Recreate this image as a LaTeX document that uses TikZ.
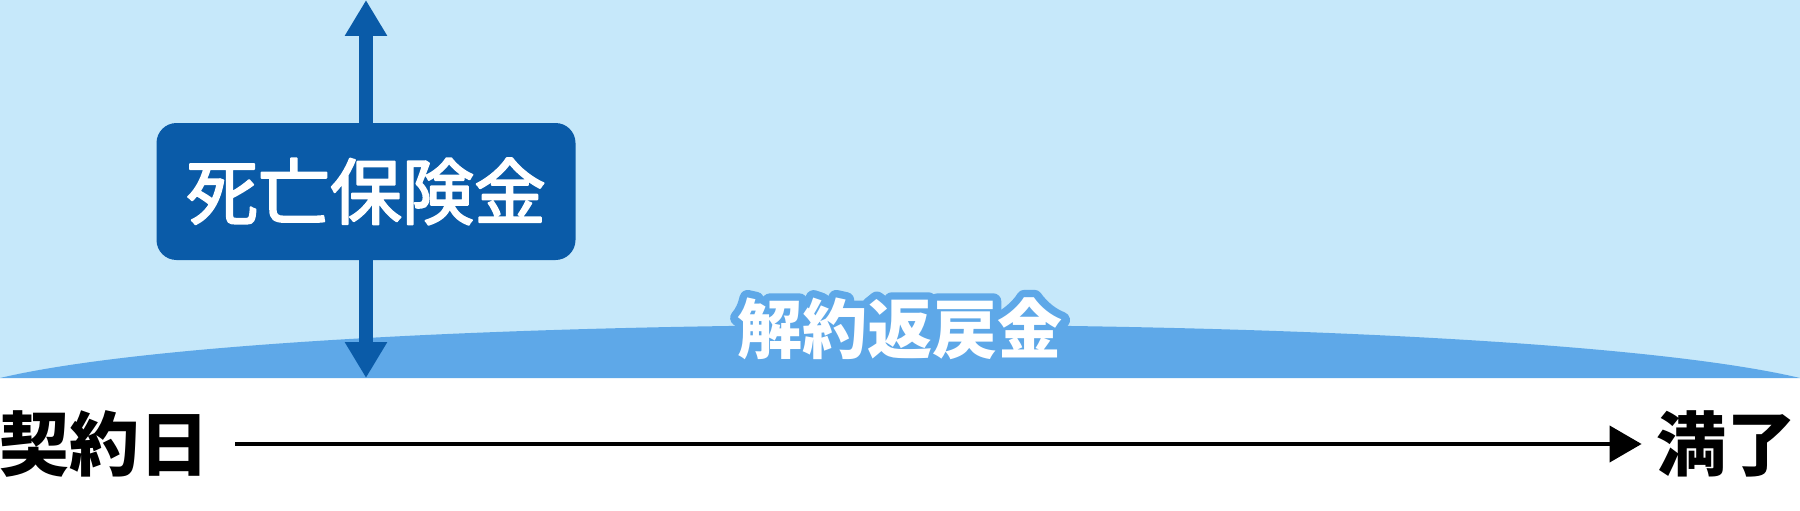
\documentclass[tikz,border=0pt]{standalone}
\usepackage{fontspec}
\usetikzlibrary{arrows.meta}
\newfontfamily\jp{Noto Sans CJK JP}
\newfontfamily\jpol{Noto Sans CJK JP}[FakeBold=25]
\newfontfamily\jpm{Noto Sans CJK JP}[FakeBold=2.6]
\definecolor{skyL}{HTML}{C6E8FA}
\definecolor{domeC}{HTML}{5EA8E8}
\definecolor{boxC}{HTML}{0A5BA8}
\tikzset{
  deathbox/.style={fill=boxC, rounded corners=20pt, minimum width=419pt, minimum height=137pt,
    inner sep=0pt, text=white, font=\jpm\fontsize{72}{80}\selectfont},
  vbar/.style={draw=boxC, line width=14pt, -{Triangle[width=40pt,length=36pt]}},
  tlabel/.style={inner sep=0pt, text=black, font=\jp\bfseries\fontsize{70}{78}\selectfont},
  refund/.style={inner sep=0pt, text=white, font=\jp\bfseries\fontsize{65}{72}\selectfont},
  refundrim/.style={inner sep=0pt, text=domeC, font=\jpol\bfseries\fontsize{65}{72}\selectfont},
  timeline/.style={draw=black, line width=4pt, -{Triangle[width=36pt,length=32pt]}}
}
\begin{document}
\begin{tikzpicture}[x=1pt,y=-1pt]
\useasboundingbox (0,0) rectangle (1800,511);
\fill[white] (0,0) rectangle (1800,511);
\fill[skyL] (0,0) rectangle (1800,378);
\fill[domeC] (0,378) .. controls (300,307) and (1500,307) .. (1800,378) -- cycle;
% death benefit
\node[deathbox] (death) at (366,191.5) {\special{pdf:code 1 j}死亡保険金};
\coordinate (top) at (366,0);
\coordinate (bot) at (366,378);
\draw[vbar] (death.north) -- (top);
\draw[vbar] (death.south) -- (bot);
% surrender value (rim drawn beneath the white text)
\node[refundrim] (rim) at (900,329) {\special{pdf:code 1 j 1 J}解約返戻金};
\node[refund] (refund) at (rim.center) {解約返戻金};
% timeline
\node[tlabel, anchor=west] (start) at (-1,444) {契約日};
\node[tlabel, anchor=east] (end) at (1797,444) {満了};
\draw[timeline, shorten <=26pt, shorten >=15pt] (start) -- (end);
\end{tikzpicture}
\end{document}
